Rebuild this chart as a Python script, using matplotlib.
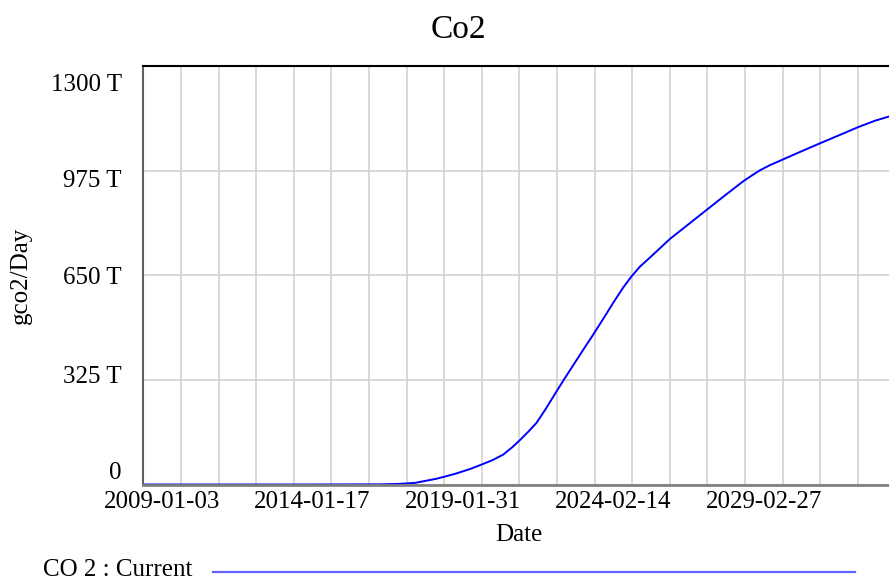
import matplotlib
matplotlib.use('Agg')
import matplotlib.pyplot as plt
from matplotlib.lines import Line2D
from matplotlib.ticker import FixedLocator

plt.rcParams['font.family'] = ['Liberation Serif', 'DejaVu Serif']

# Data: days since 2009-01-03, CO2 in T (10^12) gco2/Day
days = [0, 1916, 2895, 3139, 3323, 3588, 3812, 3996, 4118, 4265,
        4403, 4509, 4607, 4705, 4811, 4925, 5056, 5145, 5280, 5390,
        5504, 5646, 5769, 5870, 5973, 6075, 6197, 6442, 6686, 6890,
        7114, 7338, 7444, 7542, 7664, 7808, 8032, 8277, 8521, 8741,
        8949, 9120, 9200]
co2 = [0, 0, 0.5, 2, 5, 18, 33, 48, 60, 75,
       93, 115, 138, 163, 192, 236, 290, 326, 379, 422,
       466, 523, 573, 612, 647, 677, 705, 763, 812, 853,
       898, 942, 960, 976, 992, 1008, 1033, 1060, 1086, 1110,
       1130, 1143, 1149]

date_labels = ['2009-01-03', '2014-01-17', '2019-01-31', '2024-02-14', '2029-02-27']
y_labels = ['1300 T', '975 T', '650 T', '325 T', '0']

W, H = 889, 581
fig = plt.figure(figsize=(W / 100, H / 100), dpi=100)
ax = fig.add_axes([143.3 / W, 1 - 484.5 / H, 752.2 / W, 418.5 / H])

ax.plot(days, co2, color='#0000ff', lw=1.4)

ax.set_xlim(0, 9200)
ax.set_ylim(0, 1300)

# grid lines on minor ticks, labels on major ticks (placed like Vensim)
ax.xaxis.set_minor_locator(FixedLocator([460 * i for i in range(21)]))
ax.yaxis.set_minor_locator(FixedLocator([325 * i for i in range(5)]))
ax.set_xticks([230 + 1840 * i for i in range(len(date_labels))])
ax.set_xticklabels(date_labels)
ax.set_yticks([1250, 952, 648, 343, 42])
ax.set_yticklabels(y_labels)
ax.grid(which='minor', color='#d2d2d2', lw=1.2)
ax.grid(which='major', visible=False)
ax.tick_params(which='both', length=0)
ax.tick_params(axis='y', pad=15.5, labelsize=18)
ax.tick_params(axis='x', pad=5, labelsize=18)
ax.set_axisbelow(True)

ax.spines['right'].set_visible(False)
ax.spines['top'].set_color('black')
ax.spines['top'].set_linewidth(1.5)
ax.spines['left'].set_color('#606060')
ax.spines['left'].set_linewidth(1.5)
ax.spines['bottom'].set_color('#808080')
ax.spines['bottom'].set_linewidth(2)

fig.text(458 / W, 1 - 30 / H, 'Co2', ha='center', va='center', fontsize=24)
fig.text(519 / W, 1 - 541 / H, 'Date', ha='center', va='baseline', fontsize=18)
fig.text(21 / W, 1 - 275 / H, 'gco2/Day', ha='center', va='center',
         rotation=90, fontsize=18)

# legend row
fig.text(42.7 / W, 1 - 575.5 / H, 'CO 2 : Current', ha='left', va='baseline', fontsize=18)
fig.add_artist(Line2D([213 / W, 855 / W], [1 - 571.5 / H, 1 - 571.5 / H],
                      color='#6262ff', lw=1.6, transform=fig.transFigure))

fig.savefig('out.png', dpi=100)
